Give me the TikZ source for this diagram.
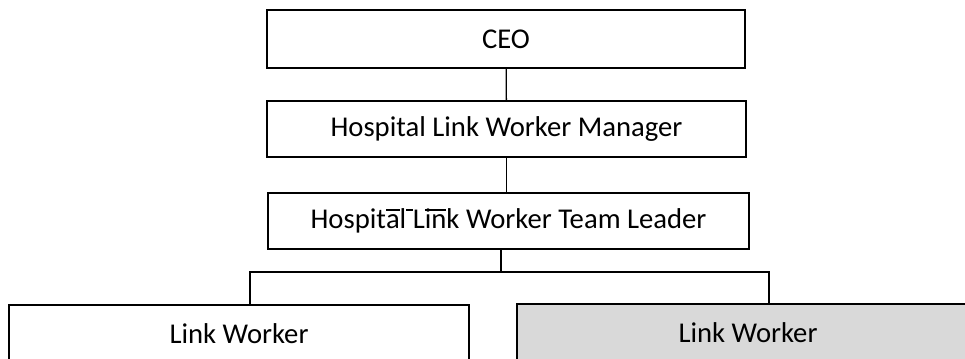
\documentclass[tikz,border=0pt]{standalone}
\usepackage{fontspec}
\setmainfont{Carlito}
\newcommand{\ovl}[1]{\leavevmode\setbox0\hbox{#1}\rlap{\rule[0.62em]{\wd0}{0.05em}}\box0}

\begin{document}
\begin{tikzpicture}[x=0.75pt,y=-0.75pt]
\tikzstyle{post}=[draw,shape=rectangle,line width=1pt,inner sep=0pt,font=\fontsize{21.5}{24}\selectfont]
\clip (0,0) rectangle (965,358);
\path (506,39) node[post,minimum width=358.5pt,minimum height=43.5pt](ceo){CEO}
      (506.5,129) node[post,minimum width=359.25pt,minimum height=42pt](mgr){Hospital Link Worker Manager}
      (508.5,221) node[post,minimum width=360.75pt,minimum height=42pt](lead){Hospit\ovl{a}l\ovl{\ }L\ovl{i}\ovl{n}k Worker Team Leader};
\path (239,334) node[post,line width=1.6pt,minimum width=345pt,minimum height=43.5pt](lwa){Link Worker}
      (748,333) node[post,fill=black!15,minimum width=346.5pt,minimum height=43.5pt](lwb){Link Worker};
\coordinate (bus) at (501,272);
\coordinate (busa) at (250,272);
\coordinate (busb) at (769,272);
\draw[line width=1pt] (ceo) -- (mgr);
\draw[line width=1pt] (mgr.south) -- (mgr.south |- lead.north);
\draw[line width=1pt] (lead.south -| bus) -- (bus);
\draw[line width=1pt] (lwa.north -| busa) -- (busa) -- (busb) -- (lwb.north -| busb);
\end{tikzpicture}
\end{document}
